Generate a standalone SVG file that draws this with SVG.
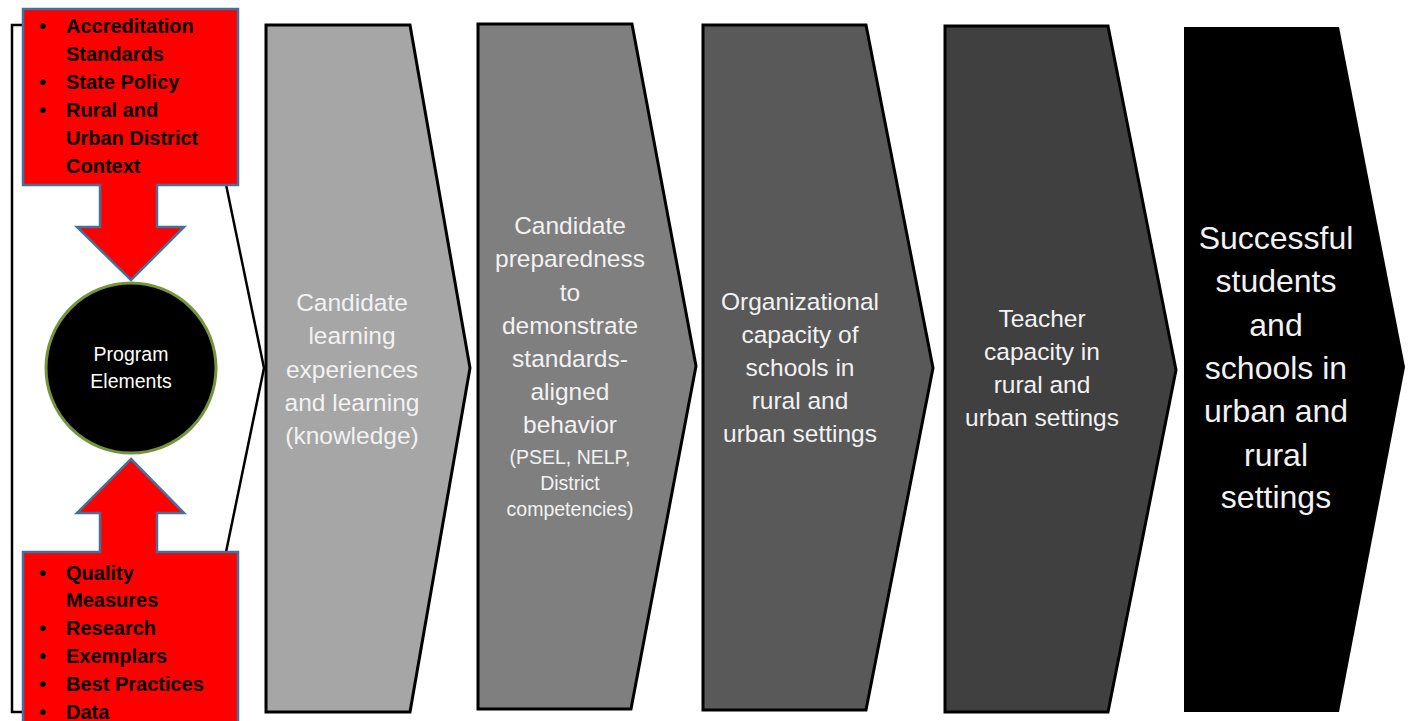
<svg xmlns="http://www.w3.org/2000/svg" width="1408" height="721" viewBox="0 0 1408 721">
<style>
.chev{stroke:#000;stroke-width:3;stroke-linejoin:miter}
.t{font-family:"Liberation Sans",Arial,sans-serif;fill:#F2F2F2;text-anchor:middle;font-size:24.5px}
.ts{font-size:19.5px}
.tb{font-size:32px}
.red{fill:#FF0000;stroke:#41719C;stroke-width:2.5;stroke-linejoin:miter}
.rt{font-family:"Liberation Sans",Arial,sans-serif;font-weight:bold;font-size:20px;fill:#000}
.ct{font-family:"Liberation Sans",Arial,sans-serif;font-size:19.5px;fill:#FFFFFF;text-anchor:middle}
</style>
<rect width="1408" height="721" fill="#FFFFFF"/>
<g id="frame">
<path d="M193,25 H12 V712 H193 L264,368 Z" fill="#FFFFFF" stroke="#000" stroke-width="2.5"/>
</g>
<g id="stage1">
<path class="chev" fill="#A6A6A6" d="M266,25 H410 L470,368 L410,712 H266 Z"/>
<text class="t" x="352" y="311">Candidate</text>
<text class="t" x="352" y="344">learning</text>
<text class="t" x="352" y="378">experiences</text>
<text class="t" x="352" y="411">and learning</text>
<text class="t" x="352" y="444">(knowledge)</text>
</g>
<g id="stage2">
<path class="chev" fill="#7F7F7F" d="M478,24 H632 L696,366 L631,709 H478 Z"/>
<text class="t" x="570" y="234">Candidate</text>
<text class="t" x="570" y="267">preparedness</text>
<text class="t" x="570" y="301">to</text>
<text class="t" x="570" y="334">demonstrate</text>
<text class="t" x="570" y="367">standards-</text>
<text class="t" x="570" y="400">aligned</text>
<text class="t" x="570" y="433">behavior</text>
<text class="t ts" x="570" y="464">(PSEL, NELP,</text>
<text class="t ts" x="570" y="490">District</text>
<text class="t ts" x="570" y="516">competencies)</text>
</g>
<g id="stage3">
<path class="chev" fill="#595959" d="M703,25 H866 L933,368 L866,710 H703 Z"/>
<text class="t" x="800" y="310">Organizational</text>
<text class="t" x="800" y="343">capacity of</text>
<text class="t" x="800" y="376">schools in</text>
<text class="t" x="800" y="409">rural and</text>
<text class="t" x="800" y="442">urban settings</text>
</g>
<g id="stage4">
<path class="chev" fill="#404040" d="M945,26 H1108 L1176,370 L1108,712 H945 Z"/>
<text class="t" x="1042" y="327">Teacher</text>
<text class="t" x="1042" y="360">capacity in</text>
<text class="t" x="1042" y="393">rural and</text>
<text class="t" x="1042" y="426">urban settings</text>
</g>
<g id="stage5">
<path fill="#000000" d="M1184,27 H1339 L1405,367 L1339,712 H1184 Z"/>
<text class="t tb" x="1276" y="249">Successful</text>
<text class="t tb" x="1276" y="292">students</text>
<text class="t tb" x="1276" y="336">and</text>
<text class="t tb" x="1276" y="379">schools in</text>
<text class="t tb" x="1276" y="422">urban and</text>
<text class="t tb" x="1276" y="466">rural</text>
<text class="t tb" x="1276" y="508">settings</text>
</g>
<g id="context-callout">
<path class="red" d="M23,9 H238 V185 H157 V227 H184 L131,280 L77,227 H100 V185 H23 Z"/>
<g class="rt">
<text x="39" y="33">•</text><text x="66" y="33">Accreditation</text>
<text x="66" y="61">Standards</text>
<text x="39" y="89">•</text><text x="66" y="89">State Policy</text>
<text x="39" y="117">•</text><text x="66" y="117">Rural and</text>
<text x="66" y="145">Urban District</text>
<text x="66" y="173">Context</text>
</g>
</g>
<g id="evidence-callout">
<path class="red" d="M131,459 L184,513 H157 V552 H238 V730 H23 V552 H100 V513 H77 Z"/>
<g class="rt">
<text x="39" y="580">•</text><text x="66" y="580">Quality</text>
<text x="66" y="607">Measures</text>
<text x="39" y="635">•</text><text x="66" y="635">Research</text>
<text x="39" y="663">•</text><text x="66" y="663">Exemplars</text>
<text x="39" y="691">•</text><text x="66" y="691">Best Practices</text>
<text x="39" y="719">•</text><text x="66" y="719">Data</text>
</g>
</g>
<g id="program-elements">
<circle cx="131" cy="368" r="85" fill="#000" stroke="#77933C" stroke-width="3"/>
<text class="ct" x="131" y="361">Program</text>
<text class="ct" x="131" y="388">Elements</text>
</g>
<g id="connectors"></g>
</svg>
